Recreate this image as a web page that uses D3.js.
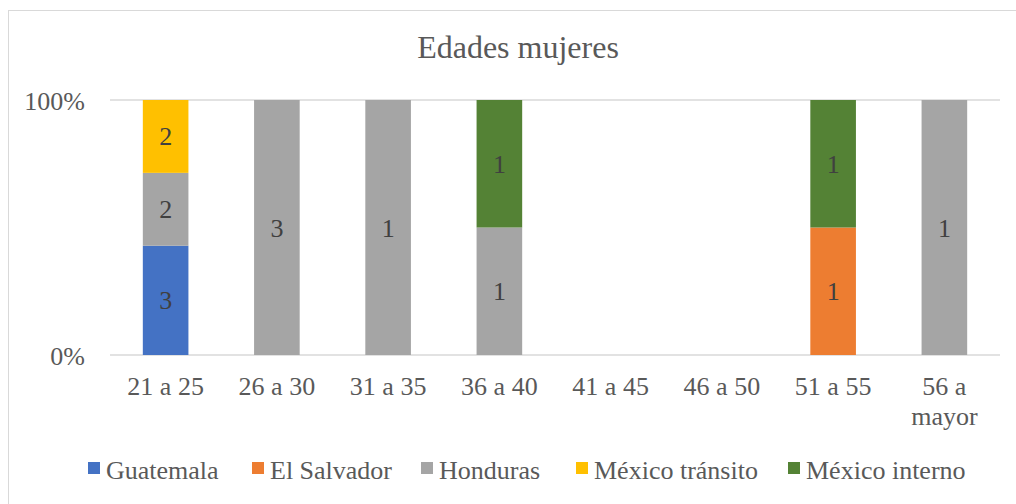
<!DOCTYPE html>
<html>
<head>
<meta charset="utf-8">
<script src="https://cdn.jsdelivr.net/npm/d3@7"></script>
<style>
  @font-face { font-family: "RefSerif"; src: local("Liberation Serif"), local("LiberationSerif"), local("Times New Roman"); }
  body { margin: 0; background: #fff; }
</style>
</head>
<body>
<div id="chart"></div>
<script>
const categories = ["21 a 25", "26 a 30", "31 a 35", "36 a 40", "41 a 45", "46 a 50", "51 a 55", "56 a mayor"];
const seriesNames = ["Guatemala", "El Salvador", "Honduras", "México tránsito", "México interno"];
const guatemala = [3, 0, 0, 0, 0, 0, 0, 0];
const elSalvador = [0, 0, 0, 0, 0, 0, 1, 0];
const honduras = [2, 3, 1, 1, 0, 0, 0, 1];
const mexicoTransito = [2, 0, 0, 0, 0, 0, 0, 0];
const mexicoInterno = [0, 0, 0, 1, 0, 0, 1, 0];
const colors = ["#4472c4", "#ed7d31", "#a5a5a5", "#ffc000", "#548235"];
const yTicks = [0, 1];

const FONT = '"Liberation Serif", RefSerif, "Times New Roman", FreeSerif';
const W = 1016, H = 504;
const margin = { top: 100, right: 16, bottom: 149, left: 110 };
const width = W - margin.left - margin.right;
const height = H - margin.top - margin.bottom;

const seriesValues = [guatemala, elSalvador, honduras, mexicoTransito, mexicoInterno];
const rows = categories.map((c, i) => {
  const r = { cat: c };
  seriesNames.forEach((s, j) => { r[s] = seriesValues[j][i]; });
  return r;
});

const stacked = d3.stack().keys(seriesNames).offset(d3.stackOffsetExpand)(rows);

// font on each text, inline and important
function txt(sel) {
  return sel.attr("font-family", FONT).style("font-family", FONT, "important");
}

const svg = d3.select("#chart").append("svg")
  .attr("width", W).attr("height", H)
  .call(txt);

// outer frame
svg.append("rect")
  .attr("x", 8.5).attr("y", 10.5).attr("width", 1020).attr("height", 520)
  .attr("fill", "#fff").attr("stroke", "#d9d9d9");

svg.append("text")
  .attr("x", 518).attr("y", 58)
  .attr("text-anchor", "middle")
  .attr("font-size", 32).attr("fill", "#595959")
  .call(txt)
  .text("Edades mujeres");

const g = svg.append("g").attr("transform", `translate(${margin.left},${margin.top})`);

const x = d3.scaleBand().domain(categories).range([0, width]).paddingInner(0.59).paddingOuter(0.295);
const y = d3.scaleLinear().domain([0, 1]).range([height, 0]);

// gridlines
g.selectAll(".grid").data(yTicks).enter().append("line")
  .attr("x1", 0).attr("x2", width)
  .attr("y1", d => y(d)).attr("y2", d => y(d))
  .attr("stroke", "#d9d9d9").attr("stroke-width", 1.5);

// y axis labels
const yAxis = d3.axisLeft(y).tickValues(yTicks).tickFormat(d3.format(".0%")).tickSize(0).tickPadding(25);
g.append("g").call(yAxis)
  .call(txt)
  .call(a => a.select(".domain").remove())
  .selectAll("text").attr("font-size", 26).attr("fill", "#595959")
  .attr("dy", "0.35em")
  .call(txt);

// bars
const layers = g.selectAll(".layer").data(stacked).enter().append("g")
  .attr("fill", (d, i) => colors[i]);

layers.selectAll("rect").data(d => d.map((v, i) => ({ v, i }))).enter().append("rect")
  .filter(d => (d.v[1] - d.v[0]) > 0)
  .attr("x", d => x(categories[d.i]))
  .attr("width", x.bandwidth())
  .attr("y", d => y(d.v[1]))
  .attr("height", d => y(d.v[0]) - y(d.v[1]));

// data labels
stacked.forEach((layer, si) => {
  layer.forEach((v, i) => {
    const val = seriesValues[si][i];
    if (!val || isNaN(v[1])) return;
    g.append("text")
      .attr("x", x(categories[i]) + x.bandwidth() / 2)
      .attr("y", y((v[0] + v[1]) / 2) + 9)
      .attr("text-anchor", "middle")
      .attr("font-size", 26).attr("fill", "#404040")
      .call(txt)
      .text(val);
  });
});

// x axis labels
const xl = g.append("g").attr("transform", `translate(0,${height})`);
categories.forEach(c => {
  const t = xl.append("text")
    .attr("x", x(c) + x.bandwidth() / 2)
    .attr("text-anchor", "middle")
    .attr("font-size", 26).attr("fill", "#595959")
    .call(txt);
  const parts = c === "56 a mayor" ? ["56 a", "mayor"] : [c];
  parts.forEach((p, k) => t.append("tspan").attr("x", x(c) + x.bandwidth() / 2).attr("y", 40 + k * 30).text(p));
});

// legend (item left edges, layout only)
const legendX = [88, 252, 421, 576, 788];
const legend = svg.append("g").attr("transform", "translate(0,470)");
seriesNames.forEach((s, i) => {
  legend.append("rect").attr("x", legendX[i]).attr("y", -8).attr("width", 12).attr("height", 12).attr("fill", colors[i]);
  legend.append("text").attr("x", legendX[i] + 18).attr("y", 9)
    .attr("font-size", 26).attr("fill", "#595959")
    .call(txt).text(s);
});
</script>
</body>
</html>
